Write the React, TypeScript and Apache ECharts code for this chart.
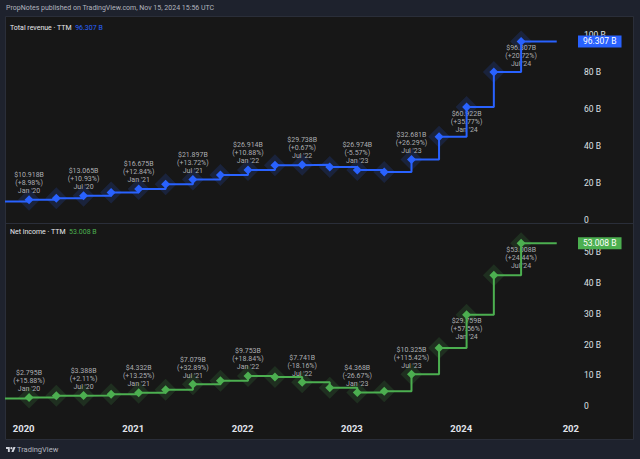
import { useEffect, useRef } from 'react';
import * as echarts from 'echarts';

// ---- data ----
const quarterDates = [
  '2019-10-19', '2020-01-19', '2020-04-19', '2020-07-19', '2020-10-19',
  '2021-01-19', '2021-04-19', '2021-07-19', '2021-10-19', '2022-01-19',
  '2022-04-19', '2022-07-19', '2022-10-19', '2023-01-19', '2023-04-19',
  '2023-07-19', '2023-10-19', '2024-01-19', '2024-04-19', '2024-07-19',
];
const currentDate = '2024-11-15';
const revenueTTM = [
  10.018, 10.918, 11.778, 13.065, 14.777, 16.675, 19.256, 21.897, 24.274, 26.914,
  29.541, 29.738, 28.566, 26.974, 25.878, 32.681, 44.87, 60.922, 79.774, 96.307,
];
const netIncomeTTM = [
  2.412, 2.795, 3.318, 3.388, 3.825, 4.332, 5.327, 7.079, 8.207, 9.753,
  9.459, 7.741, 5.957, 4.368, 4.793, 10.325, 18.888, 29.759, 42.597, 53.008,
];
const labelledIndex = [1, 3, 5, 7, 9, 11, 13, 15, 17, 19];
const periodLabels = ["Jan '20", "Jul '20", "Jan '21", "Jul '21", "Jan '22", "Jul '22", "Jan '23", "Jul '23", "Jan '24", "Jul '24"];
const revenueChange = ['+8.98%', '+10.93%', '+12.84%', '+13.72%', '+10.88%', '+0.67%', '-5.57%', '+26.29%', '+35.77%', '+20.72%'];
const incomeChange = ['+15.88%', '+2.11%', '+13.25%', '+32.89%', '+18.84%', '-18.16%', '-26.67%', '+115.42%', '+57.56%', '+24.44%'];
const labelBelow = [false, false, false, false, false, false, false, false, true, true];
const revenueAxis = { max: 110, interval: 20 };
const incomeAxis = { max: 59.6, interval: 10 };
const axisStart = '2019-11-03';
const axisEnd = '2025-01-25';

const BLUE = '#2962ff';
const GREEN = '#4caf50';
const FONT = 'Roboto, "Liberation Sans", sans-serif';

echarts.graphic.registerShape(
  'tvlogo',
  echarts.graphic.extendPath('M14 22H7V11H0V4h14v18zM28 22h-8l7.5-18h8L28 22zM20 4a4 4 0 1 1 0 8a4 4 0 0 1 0-8z', {})
);

function buildPanel(values: number[], changes: string[], color: string, halo: string, axis: number) {
  const last = values[values.length - 1];
  const haloData = quarterDates.slice(1).map((d, k) => {
    const idx = k + 1;
    const li = labelledIndex.indexOf(idx);
    const item: any = { value: [d, values[idx]] };
    if (li >= 0) {
      item.label = {
        show: true,
        position: 'inside',
        formatter: `$${values[idx].toFixed(3)}B\n(${changes[li]})\n${periodLabels[li]}`,
        offset: [0, labelBelow[li] ? 14.7 : -16.7],
      };
    }
    return item;
  });
  const lineData: any[] = quarterDates.map((d, i) => ({
    value: [d, values[i]],
    symbol: i === 0 ? 'none' : 'diamond',
  }));
  lineData.push({ value: [currentDate, last], symbol: 'none' });
  return [
    {
      type: 'scatter',
      xAxisIndex: axis,
      yAxisIndex: axis,
      z: 1,
      silent: true,
      symbol: 'diamond',
      symbolSize: 22,
      itemStyle: { color: halo },
      label: {
        show: false,
        color: '#d3d5da',
        fontSize: 7,
        lineHeight: 8,
        fontFamily: FONT,
        align: 'center',
      },
      emphasis: { disabled: true },
      data: haloData,
    },
    {
      type: 'line',
      xAxisIndex: axis,
      yAxisIndex: axis,
      z: 3,
      silent: true,
      step: 'end',
      showAllSymbol: true,
      symbol: 'diamond',
      symbolSize: 9,
      itemStyle: { color },
      lineStyle: { color, width: 2 },
      emphasis: { disabled: true },
      data: lineData,
      markLine: {
        silent: true,
        symbol: ['none', 'none'],
        lineStyle: { width: 0, color: 'transparent' },
        emphasis: { disabled: true },
        label: {
          show: true,
          position: 'end',
          distance: 0,
          formatter: `${last.toFixed(3)} B`,
          color: '#ffffff',
          backgroundColor: color,
          padding: [2, 5, 1, 5],
          fontSize: 8.5,
          fontFamily: FONT,
        },
        data: [{ yAxis: last }],
      },
    },
  ];
}

export default function App() {
  const ref = useRef<HTMLDivElement>(null);
  useEffect(() => {
    if (!ref.current) return;
    const chart = echarts.init(ref.current, undefined, { renderer: 'svg' });
    const endMs = new Date(axisEnd).getTime();
    const yLabel = (step: number) => (v: number) =>
      Math.abs(v % step) < 1e-9 ? (v === 0 ? '0' : `${v} B`) : '';
    const yAxisBase = {
      position: 'right',
      min: 0,
      axisLine: { show: false },
      axisTick: { show: false },
      splitLine: { show: false },
    };
    const lastRev = revenueTTM[revenueTTM.length - 1];
    const lastInc = netIncomeTTM[netIncomeTTM.length - 1];
    chart.setOption({
      animation: false,
      backgroundColor: '#1e222d',
      textStyle: { fontFamily: FONT },
      grid: [
        { left: 6, right: 62, top: 16, bottom: 239 },
        { left: 6, right: 62, top: 223, bottom: 53 },
      ],
      xAxis: [
        { type: 'time', gridIndex: 0, min: axisStart, max: axisEnd, show: false },
        {
          type: 'time',
          gridIndex: 1,
          min: axisStart,
          max: axisEnd,
          minInterval: 365 * 24 * 3600 * 1000,
          axisLine: { show: false },
          axisTick: { show: false },
          splitLine: { show: false },
          axisLabel: {
            margin: 17,
            color: '#e0e3eb',
            fontSize: 9.5,
            fontWeight: 'bold',
            fontFamily: FONT,
            hideOverlap: true,
            formatter: (v: number) => {
              const y = String(new Date(v).getFullYear());
              return endMs - v < 40 * 24 * 3600 * 1000 ? y.slice(0, 3) : y;
            },
          },
        },
      ],
      yAxis: [
        {
          ...yAxisBase,
          gridIndex: 0,
          max: revenueAxis.max,
          interval: revenueAxis.interval,
          axisLabel: { margin: 6, color: '#dfe1e6', fontSize: 8.5, fontFamily: FONT, formatter: yLabel(revenueAxis.interval) },
        },
        {
          ...yAxisBase,
          gridIndex: 1,
          max: incomeAxis.max,
          interval: incomeAxis.interval,
          axisLabel: { margin: 6, color: '#dfe1e6', fontSize: 8.5, fontFamily: FONT, formatter: yLabel(incomeAxis.interval) },
        },
      ],
      graphic: [
        {
          type: 'rect',
          z: -1,
          silent: true,
          shape: { x: 5.5, y: 16.5, width: 628, height: 423 },
          style: { fill: '#171717', stroke: '#2a2e39', lineWidth: 1 },
        },
        {
          type: 'line',
          z: 5,
          silent: true,
          shape: { x1: 6, y1: 223.5, x2: 633, y2: 223.5 },
          style: { stroke: '#2a2e39', lineWidth: 1 },
        },
        {
          type: 'text',
          z: 10,
          x: 6,
          y: 8,
          style: {
            text: 'PropNotes published on TradingView.com, Nov 15, 2024 15:56 UTC',
            fill: '#b2b5be',
            fontSize: 7,
            fontFamily: FONT,
            verticalAlign: 'middle',
          },
        },
        {
          type: 'text',
          z: 10,
          x: 10,
          y: 28,
          style: {
            text: `{a|Total revenue · TTM}  {b|${lastRev.toFixed(3)} B}`,
            verticalAlign: 'middle',
            fontFamily: FONT,
            fontSize: 7,
            rich: {
              a: { fill: '#e8e9ec', fontSize: 7, fontFamily: FONT },
              b: { fill: BLUE, fontSize: 7, fontFamily: FONT },
            },
          },
        },
        {
          type: 'text',
          z: 10,
          x: 10,
          y: 232,
          style: {
            text: `{a|Net income · TTM}  {b|${lastInc.toFixed(3)} B}`,
            verticalAlign: 'middle',
            fontFamily: FONT,
            fontSize: 7,
            rich: {
              a: { fill: '#e8e9ec', fontSize: 7, fontFamily: FONT },
              b: { fill: GREEN, fontSize: 7, fontFamily: FONT },
            },
          },
        },
        {
          type: 'tvlogo',
          z: 10,
          x: 6,
          y: 446,
          scaleX: 0.27,
          scaleY: 0.27,
          style: { fill: '#d1d4dc' },
        },
        {
          type: 'text',
          z: 10,
          x: 17,
          y: 449.5,
          style: {
            text: 'TradingView',
            fill: '#b2b5be',
            fontSize: 7.5,
            fontFamily: FONT,
            verticalAlign: 'middle',
          },
        },
      ],
      series: [
        ...buildPanel(revenueTTM, revenueChange, BLUE, 'rgba(41,98,255,0.2)', 0),
        ...buildPanel(netIncomeTTM, incomeChange, GREEN, 'rgba(76,175,80,0.2)', 1),
      ],
    });
    return () => chart.dispose();
  }, []);
  return <div ref={ref} style={{ position: 'fixed', left: 0, top: 0, width: 640, height: 459 }} />;
}
